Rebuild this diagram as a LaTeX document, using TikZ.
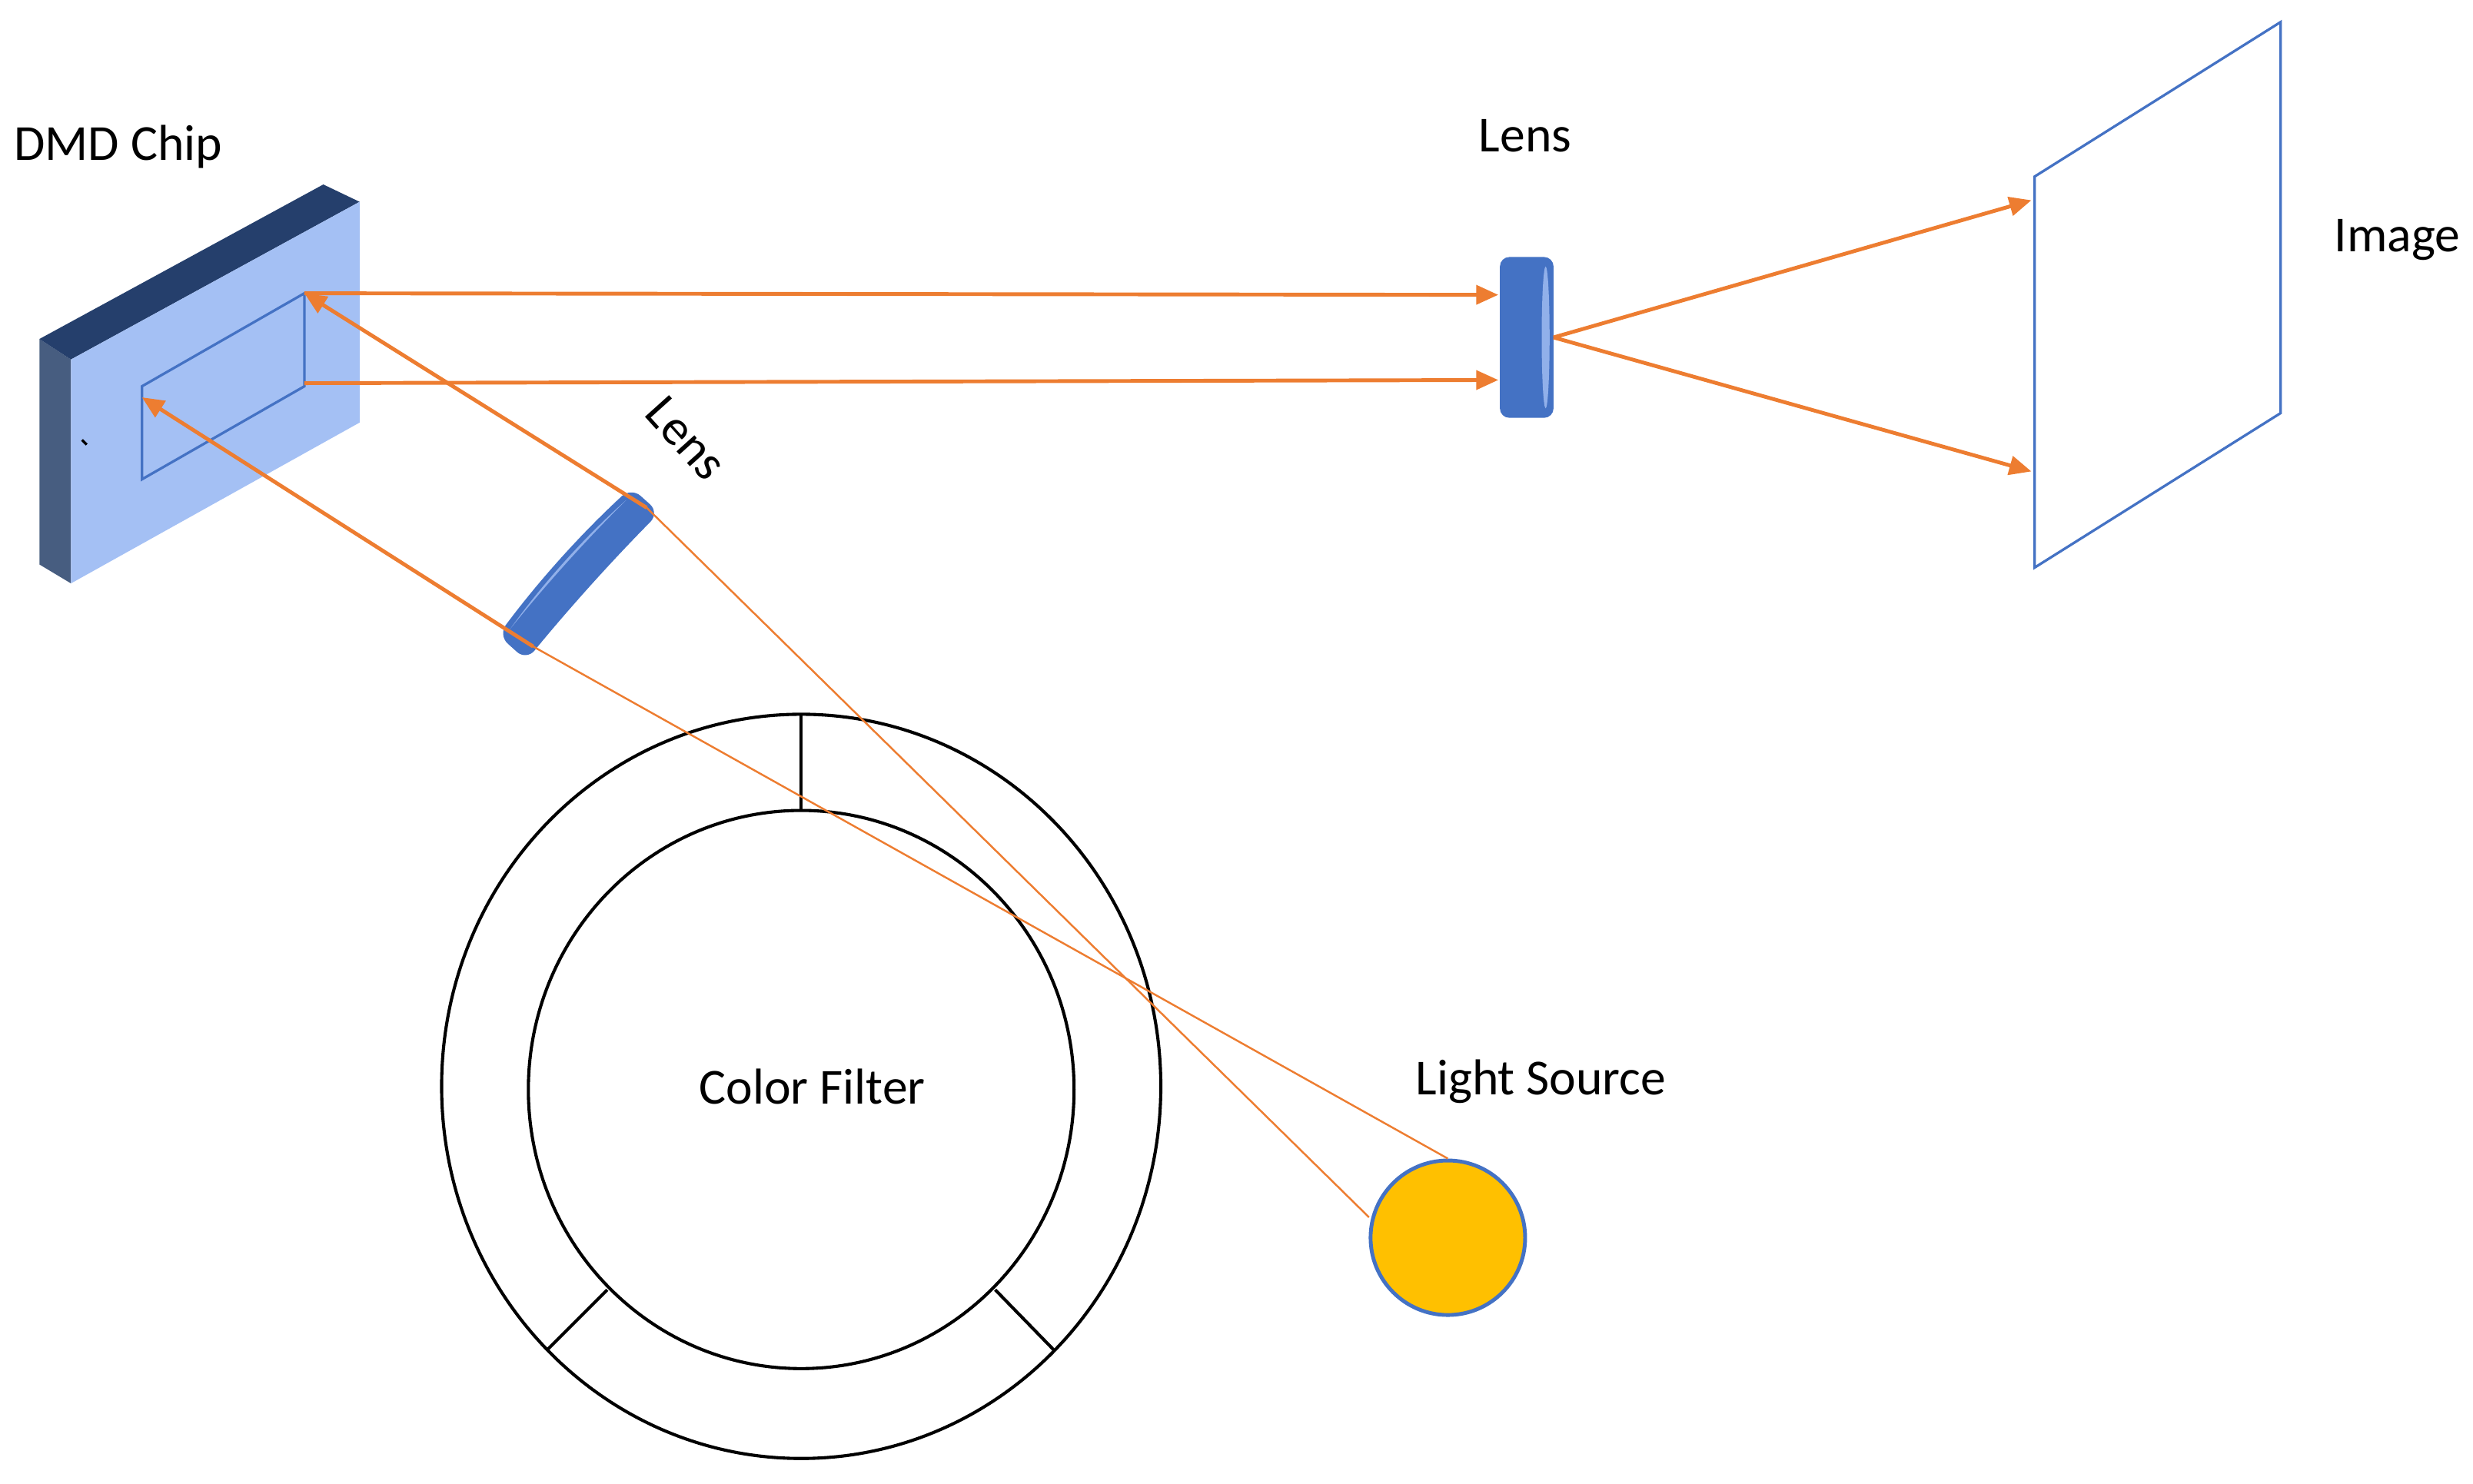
\documentclass[tikz,border=0pt]{standalone}
\usepackage{fontspec}
\setmainfont{Carlito}
\usetikzlibrary{arrows.meta}
\definecolor{org}{HTML}{ED7D31}
\definecolor{lblue}{HTML}{4472C4}
\definecolor{face}{HTML}{A4C0F4}
\definecolor{dark}{HTML}{253F6C}
\definecolor{side}{HTML}{475D80}
\tikzset{
 ray/.style={draw=org,line width=1.2pt,-{Triangle[length=7pt,width=6pt]}},
 thin ray/.style={draw=org,line width=0.6pt},
 lbl/.style={font=\fontsize{16}{19}\selectfont,inner sep=0pt},
 ring/.style={draw=black,line width=1pt}
}
\begin{document}
\begin{tikzpicture}[x=0.5pt,y=-0.5pt]
\useasboundingbox (0,0) rectangle (1568,941);
% DMD chip
\fill[side] (25,215) -- (45,228) -- (45,370) -- (25,358) -- cycle;
\fill[dark] (25,215) -- (205,117) -- (228,128) -- (45,228) -- cycle;
\fill[face] (45,228) -- (228,128) -- (228,268) -- (45,370) -- cycle;
\draw[black,line width=0.8pt] (52,279) -- (55,282);
\draw[lblue,line width=0.8pt] (90,245) -- (193,186) -- (193,245) -- (90,304) -- cycle;
\coordinate (c1) at (193,186);
\coordinate (c2) at (193,243);
\coordinate (c3) at (90,252);
% lens 1 (tilted)
\begin{scope}[shift={(367,364)},rotate=48]
\fill[lblue,rounded corners=4pt] (-63,-12) .. controls (-20,-16) and (20,-16) .. (63,-12) -- (63,12) .. controls (20,10) and (-20,10) .. (-63,12) -- cycle;
\fill[face!80!lblue] (-55,-9) .. controls (-20,-13) and (20,-13) .. (55,-9) .. controls (20,-11) and (-20,-11) .. cycle;
\end{scope}
\coordinate (l1t) at (410,322);
\coordinate (l1b) at (338,410);
\node[lbl,rotate=-48] (lens1) at (435,278) {Lens};
% lens 2
\node[fill=lblue,minimum width=17pt,minimum height=51pt,rounded corners=3pt,inner sep=0pt] (lens2) at (968,214) {};
\fill[face!80!lblue] (980,214) ellipse (2.5 and 45);
\coordinate (l2a) at (950,187);
\coordinate (l2b) at (950,241);
\coordinate (l2o) at (985,214);
\node[lbl] (lens2t) at (967,86) {Lens};
% image
\draw[lblue,line width=0.8pt] (1290,112) -- (1446,14) -- (1446,262) -- (1290,360) -- cycle;
\coordinate (i1) at (1288,127);
\coordinate (i2) at (1288,299);
\node[lbl] (imgt) at (1520,152) {Image};
% color filter
\draw[ring] (508,689) ellipse (228 and 236);
\draw[ring] (508,691) ellipse (173 and 177);
\node[lbl] (cf) at (515,689) {Color Filter};
\draw[ring] (508,453) -- (508,514);
\draw[ring] (347,856) -- (385,818);
\draw[ring] (668,856) -- (631,818);
% light source
\node[circle,fill={rgb,255:red,255;green,192;blue,0},draw=lblue,line width=1.2pt,minimum size=49pt,inner sep=0pt] (light) at (918,785) {};
\node[lbl] (lst) at (977,686) {Light Source};
\node[lbl] (dmd) at (75,93) {DMD Chip};
% rays
\draw[thin ray] (light.north) -- (l1b);
\draw[thin ray] (868,772) -- (l1t);
\draw[ray] (l1t) -- (c1);
\draw[ray] (l1b) -- (c3);
\draw[ray] (c1) -- (l2a);
\draw[ray] (c2) -- (l2b);
\draw[ray] (l2o) -- (i1);
\draw[ray] (l2o) -- (i2);
\end{tikzpicture}
\end{document}
